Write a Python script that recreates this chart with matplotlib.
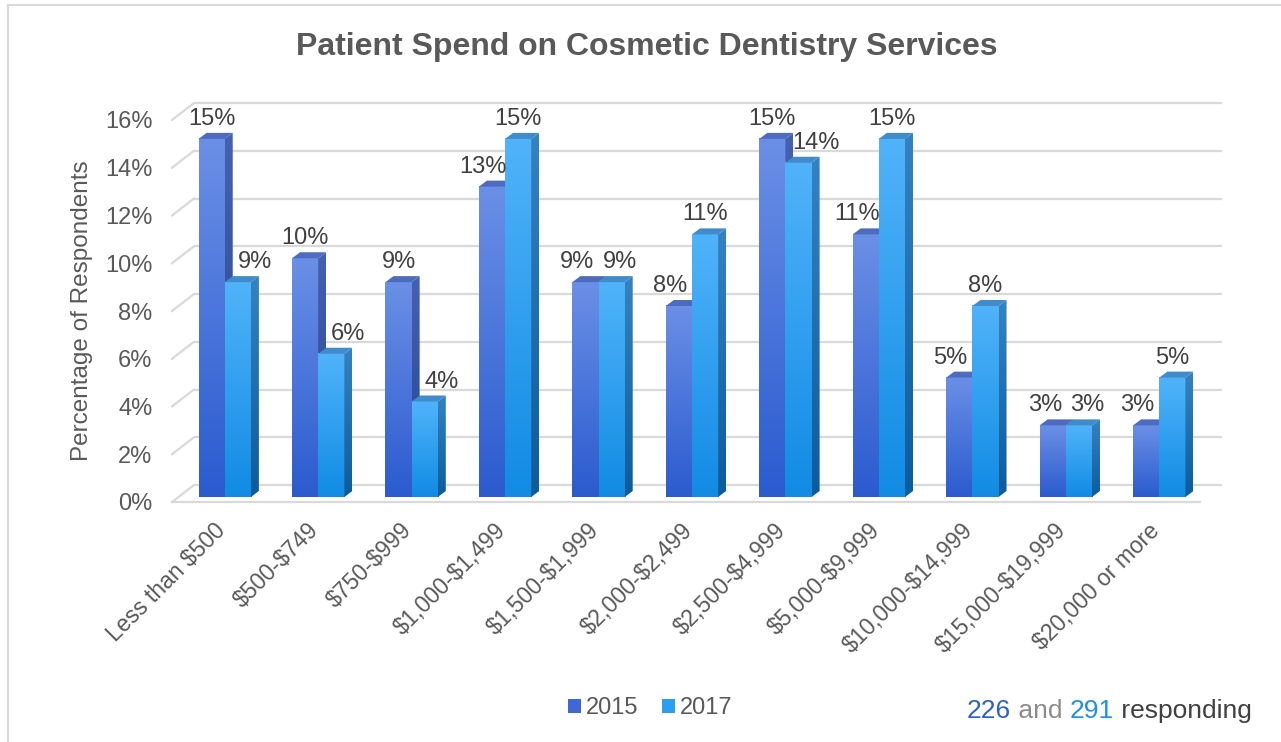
import numpy as np
import matplotlib.pyplot as plt
from matplotlib.patches import Polygon, Patch
from matplotlib.lines import Line2D
from matplotlib.colors import to_rgb

# Survey data
categories = ["Less than $500", "$500-$749", "$750-$999", "$1,000-$1,499",
              "$1,500-$1,999", "$2,000-$2,499", "$2,500-$4,999", "$5,000-$9,999",
              "$10,000-$14,999", "$15,000-$19,999", "$20,000 or more"]
pct_2015 = [15, 10, 9, 13, 9, 8, 15, 11, 5, 3, 3]
pct_2017 = [9, 6, 4, 15, 9, 11, 14, 15, 8, 3, 5]
y_ticks = [0, 2, 4, 6, 8, 10, 12, 14, 16]
n_2015, n_2017 = 226, 291

plt.rcParams['font.family'] = ['Liberation Sans', 'DejaVu Sans']
plt.rcParams['text.parse_math'] = False

TEXT = '#595959'
GRID = '#d9d9d9'
# front face top/bottom, side top/bottom, cap
C15 = ('#6a8fe6', '#2b5bcf', '#4462b0', '#24428f', '#4d6cc0')
C17 = ('#50b3fa', '#118be4', '#3482c0', '#0e5b9c', '#3f8bcb')

W, H = 1281, 742
fig = plt.figure(figsize=(W / 100, H / 100), dpi=100)

# front plane of the 3-D box in pixels
left, right, base, top16 = 172, 1200, 502, 120
ax = fig.add_axes([left / W, 1 - base / H, (right - left) / W, (base - top16) / H])
xmin, xmax = -0.5, len(categories) - 0.5
ax.set_xlim(xmin, xmax)
ax.set_ylim(0, 16)
for s in ax.spines.values():
    s.set_visible(False)

ux = (xmax - xmin) / (right - left)
uy = 16 / (base - top16)


def px(dx, dy):
    return dx * ux, dy * uy


# back wall gridlines with the slanted side-wall stubs
bdx, bdy = px(22, 17)
for t in y_ticks:
    ax.plot([xmin + bdx, xmax + bdx], [t + bdy, t + bdy], color=GRID, lw=1.6,
            zorder=1, clip_on=False, solid_capstyle='butt')
    ax.plot([xmin, xmin + bdx], [t, t + bdy], color=GRID, lw=1.6,
            zorder=1, clip_on=False)
ax.plot([xmin, xmax], [0, 0], color=GRID, lw=1.6, zorder=1, clip_on=False)


def gradient(c_top, c_bot, n=64):
    a, b = np.array(to_rgb(c_bot)), np.array(to_rgb(c_top))
    f = np.linspace(0, 1, n)[:, None]
    return (a + (b - a) * f)[:, None, :]


w = 0.28
bar_dx, bar_dy = px(6, 5)
side_dx, side_dy = px(8, 6)


def draw_bar(xl, v, cols, z):
    x0 = xl + bar_dx
    x1 = x0 + w
    yb, yt = bar_dy, bar_dy + v
    ax.imshow(gradient(cols[0], cols[1]), extent=(x0, x1, yb, yt), origin='lower',
              aspect='auto', interpolation='bilinear', zorder=z)
    side = Polygon([(x1, yb), (x1 + side_dx, yb + side_dy),
                    (x1 + side_dx, yt + side_dy), (x1, yt)],
                   closed=True, fc='none', ec='none', zorder=z)
    ax.add_patch(side)
    im = ax.imshow(gradient(cols[2], cols[3]),
                   extent=(x1, x1 + side_dx, yb, yt + side_dy), origin='lower',
                   aspect='auto', interpolation='bilinear', zorder=z)
    im.set_clip_path(side)
    cap = Polygon([(x0, yt), (x0 + side_dx, yt + side_dy),
                   (x1 + side_dx, yt + side_dy), (x1, yt)],
                  closed=True, fc=cols[4], ec='none', zorder=z)
    ax.add_patch(cap)
    return (x0 + x1) / 2, yt


def label_shift(v, other, later):
    # nudge labels sideways so they clear the neighbouring bar
    if v < other:
        return 17 if later else -9
    if v == other:
        return 8 if later else -8
    return 0


for i, (a, b) in enumerate(zip(pct_2015, pct_2017)):
    for j, (v, other, cols) in enumerate([(a, b, C15), (b, a, C17)]):
        cx, yt = draw_bar(i - w + j * w, v, cols, 2 + 2 * i + j)
        ax.annotate(f"{v}%", xy=(cx, yt),
                    xytext=(label_shift(v, other, j) * 0.72, 20 * 0.72),
                    textcoords='offset points', ha='center', va='center',
                    fontsize=17, color='#404040', zorder=50)

ax.set_xlim(xmin, xmax)
ax.set_ylim(0, 16)

ax.set_yticks(y_ticks)
ax.set_yticklabels([f"{t}%" for t in y_ticks], fontsize=17, color=TEXT)
ax.tick_params(axis='y', length=0, pad=14)
ax.set_xticks(np.arange(len(categories)) + px(3, 0)[0])
ax.set_xticklabels(categories, rotation=45, ha='right', va='center',
                   rotation_mode='anchor', fontsize=16.5, color=TEXT)
ax.tick_params(axis='x', length=0, pad=18)

fig.text(82 / W, 1 - 311 / H, "Percentage of Respondents", rotation=90,
         ha='center', va='center', fontsize=17.5, color=TEXT)
fig.text(647 / W, 1 - 55 / H, "Patient Spend on Cosmetic Dentistry Services",
         ha='center', va='baseline', fontsize=23, weight='bold', color=TEXT)

handles = [Patch(fc='#3d68d8', ec='none', label='2015'),
           Patch(fc='#2a9ef0', ec='none', label='2017')]
fig.legend(handles=handles, loc='center', bbox_to_anchor=(650 / W, 1 - 708 / H),
           ncol=2, frameon=False, fontsize=17, handlelength=0.55, handleheight=0.55,
           handletextpad=0.2, columnspacing=1.0, labelcolor=TEXT)

# respondent counts, coloured per year
pieces = [(f"{n_2015}", '#2b5fc9'), (" and ", '#8c8c8c'),
          (f"{n_2017}", '#1e90e0'), (" responding", '#404040')]
parts = [fig.text(967 / W, 1 - 718 / H, s, color=c, fontsize=19, va='baseline')
         for s, c in pieces]
fig.canvas.draw()
x = parts[0].get_window_extent().x1
for p in parts[1:]:
    p.set_position((x / W, 1 - 718 / H))
    fig.canvas.draw()
    x = p.get_window_extent().x1

# outer chart frame (top and left edges visible)
fig.add_artist(Line2D([8 / W, 8 / W], [0, 1 - 5 / H], color=GRID, lw=1.5))
fig.add_artist(Line2D([8 / W, 1], [1 - 5 / H, 1 - 5 / H], color=GRID, lw=1.5))

fig.savefig('out.png', dpi=100)
